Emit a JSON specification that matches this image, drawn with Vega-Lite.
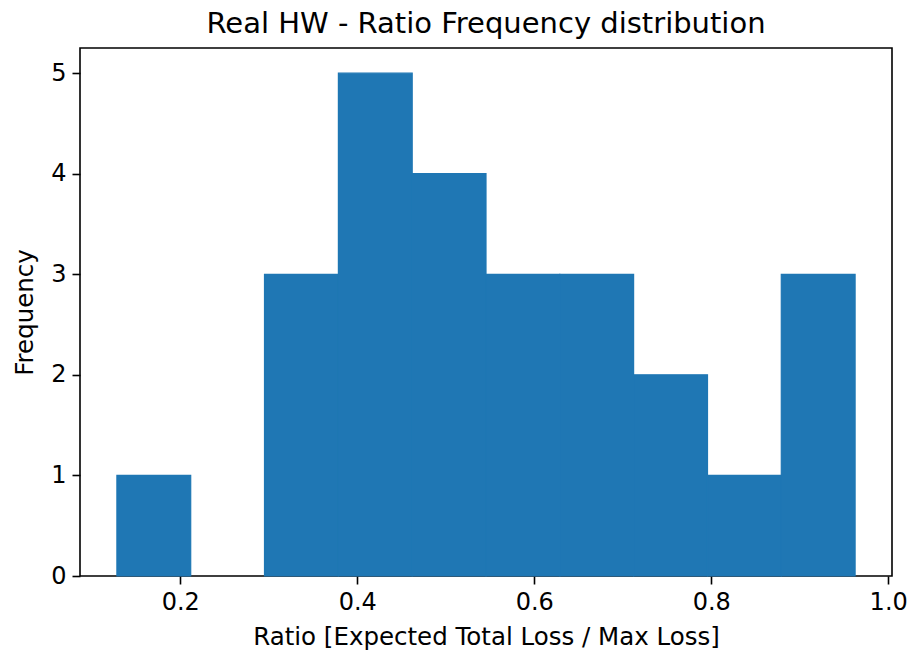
{
  "$schema": "https://vega.github.io/schema/vega-lite/v6.json",
  "width": 812,
  "height": 528,
  "autosize": {"type": "none"},
  "padding": {"left": 80, "top": 48, "right": 23, "bottom": 77},
  "background": "white",
  "config": {
    "view": {"stroke": "black", "strokeWidth": 1.6},
    "font": "DejaVu Sans",
    "axis": {
      "domain": false,
      "grid": false,
      "ticks": true,
      "tickColor": "black",
      "tickSize": 8,
      "tickWidth": 1.6,
      "labelFont": "DejaVu Sans",
      "labelFontSize": 24,
      "labelColor": "black",
      "labelPadding": 6,
      "titleFont": "DejaVu Sans",
      "titleFontSize": 24.5,
      "titleFontWeight": "normal",
      "titleColor": "black"
    }
  },
  "title": {
    "text": "Real HW - Ratio Frequency distribution",
    "font": "DejaVu Sans",
    "fontSize": 29,
    "fontWeight": "normal",
    "color": "black",
    "anchor": "middle",
    "offset": 9
  },
  "data": {
    "values": [
      {"bin_start": 0.1284, "bin_end": 0.2118, "count": 1},
      {"bin_start": 0.2118, "bin_end": 0.2952, "count": 0},
      {"bin_start": 0.2952, "bin_end": 0.3787, "count": 3},
      {"bin_start": 0.3787, "bin_end": 0.4621, "count": 5},
      {"bin_start": 0.4621, "bin_end": 0.5455, "count": 4},
      {"bin_start": 0.5455, "bin_end": 0.6289, "count": 3},
      {"bin_start": 0.6289, "bin_end": 0.7123, "count": 3},
      {"bin_start": 0.7123, "bin_end": 0.7958, "count": 2},
      {"bin_start": 0.7958, "bin_end": 0.8792, "count": 1},
      {"bin_start": 0.8792, "bin_end": 0.9626, "count": 3}
    ]
  },
  "transform": [{"filter": "datum.count > 0"}],
  "mark": {"type": "rect", "color": "#1f77b4", "stroke": "#1f77b4", "strokeWidth": 1.2},
  "encoding": {
    "x": {
      "field": "bin_start",
      "type": "quantitative",
      "scale": {"domain": [0.0867, 1.0043], "nice": false, "zero": false},
      "axis": {"values": [0.2, 0.4, 0.6, 0.8, 1.0], "format": ".1f", "title": "Ratio [Expected Total Loss / Max Loss]", "titlePadding": 11}
    },
    "x2": {"field": "bin_end"},
    "y": {
      "field": "count",
      "type": "quantitative",
      "scale": {"domain": [0, 5.25], "nice": false},
      "axis": {"values": [0, 1, 2, 3, 4, 5], "format": "d", "title": "Frequency", "titlePadding": 13}
    },
    "y2": {"datum": 0}
  }
}
